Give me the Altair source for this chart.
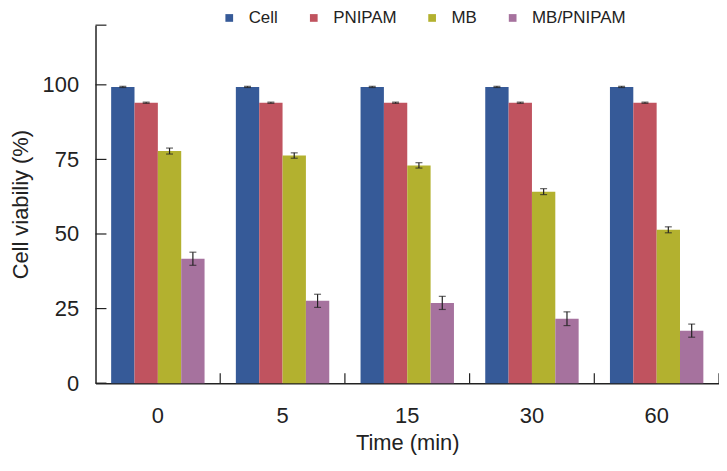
import altair as alt
import pandas as pd

times = ["0", "5", "15", "30", "60"]
series = ["Cell", "PNIPAM", "MB", "MB/PNIPAM"]
colors = ["#365a98", "#c0535f", "#b3b12f", "#a6729e"]

cell = [99.3, 99.3, 99.3, 99.3, 99.3]
pnipam = [94.0, 94.0, 94.0, 94.0, 94.0]
mb = [77.8, 76.3, 73.0, 64.2, 51.4]
mb_pnipam = [41.7, 27.6, 26.9, 21.6, 17.6]

cell_err = [0.2, 0.2, 0.2, 0.2, 0.2]
pnipam_err = [0.2, 0.2, 0.2, 0.2, 0.2]
mb_err = [1.0, 0.9, 0.9, 1.0, 1.0]
mb_pnipam_err = [2.2, 2.2, 2.2, 2.3, 2.2]

y_ticks = [0, 25, 50, 75, 100, 120]
y_labels = [0, 25, 50, 75, 100]
x_tick_times = ["5", "15", "30", "60"]

FONT = "Liberation Sans, Arial, sans-serif"

rows = []
for s, vals, errs in zip(series, [cell, pnipam, mb, mb_pnipam],
                         [cell_err, pnipam_err, mb_err, mb_pnipam_err]):
    for t, v, e in zip(times, vals, errs):
        rows.append({"time": t, "series": s, "value": v, "lo": v - e, "hi": v + e})
df = pd.DataFrame(rows)

yscale = alt.Scale(domain=[0, 120], nice=False, zero=True)
xscale = alt.Scale(paddingInner=0, paddingOuter=0)
offscale = alt.Scale(domain=series, paddingInner=0, paddingOuter=0.67)

x_axis = alt.Axis(title="Time (min)", labelAngle=0, ticks=False, tickSize=0,
                  labelPadding=23, titlePadding=6, labelFontSize=22, titleFontSize=22)
y_axis = alt.Axis(title="Cell viabiliy (%)", values=y_labels, ticks=False, tickSize=0,
                  grid=False, labelPadding=17, titlePadding=10,
                  labelFontSize=22, titleFontSize=22)


def X(**kw):
    return alt.X("time:N", sort=times, scale=xscale, axis=x_axis, **kw)


def Y(field):
    return alt.Y(field, scale=yscale, axis=y_axis)


off = alt.XOffset("series:N", sort=series, scale=offscale)

bars = alt.Chart(df).mark_bar().encode(
    x=X(),
    xOffset=off,
    y=Y("value:Q"),
    color=alt.Color("series:N", sort=series,
                    scale=alt.Scale(domain=series, range=colors),
                    legend=alt.Legend(title=None, orient="none", direction="horizontal",
                                      legendX=126, legendY=-16, symbolType="square",
                                      symbolSize=60, symbolStrokeWidth=0,
                                      labelFontSize=17, labelFont=FONT,
                                      labelColor="#222", labelOffset=11,
                                      columnPadding=27)),
)

err_rule = alt.Chart(df).mark_rule(color="#222", strokeWidth=1.2).encode(
    x=X(), xOffset=off, y=Y("lo:Q"), y2="hi:Q",
)
cap_lo = alt.Chart(df).mark_tick(color="#222", size=7, thickness=1.2).encode(
    x=X(), xOffset=off, y=Y("lo:Q"),
)
cap_hi = alt.Chart(df).mark_tick(color="#222", size=7, thickness=1.2).encode(
    x=X(), xOffset=off, y=Y("hi:Q"),
)

ytick_rules = alt.Chart(pd.DataFrame({"value": y_ticks})).mark_rule(
    color="#222", strokeWidth=1.2).encode(
    y=Y("value:Q"), x=alt.value(0), x2=alt.value(11),
)

xtick_rules = alt.Chart(pd.DataFrame({"time": x_tick_times})).mark_rule(
    color="#222", strokeWidth=1.2).encode(
    x=X(bandPosition=0), y=alt.value(360), y2=alt.value(350),
)
xtick_end = alt.Chart(pd.DataFrame({"time": ["60"]})).mark_rule(
    color="#222", strokeWidth=1.2).encode(
    x=X(bandPosition=1), y=alt.value(360), y2=alt.value(350),
)

chart = alt.layer(bars, err_rule, cap_lo, cap_hi, ytick_rules, xtick_rules, xtick_end).properties(
    width=627,
    height=360,
    autosize=alt.AutoSizeParams(type="none"),
    padding={"left": 88, "top": 16, "right": 0, "bottom": 73},
).configure_view(stroke=None).configure_axis(
    domainColor="#222",
    domainWidth=1.5,
    labelFont=FONT,
    titleFont=FONT,
    labelColor="#222",
    titleColor="#222",
    titleFontWeight="normal",
)

chart.save("out.html", embed_options={"renderer": "svg", "actions": False})
